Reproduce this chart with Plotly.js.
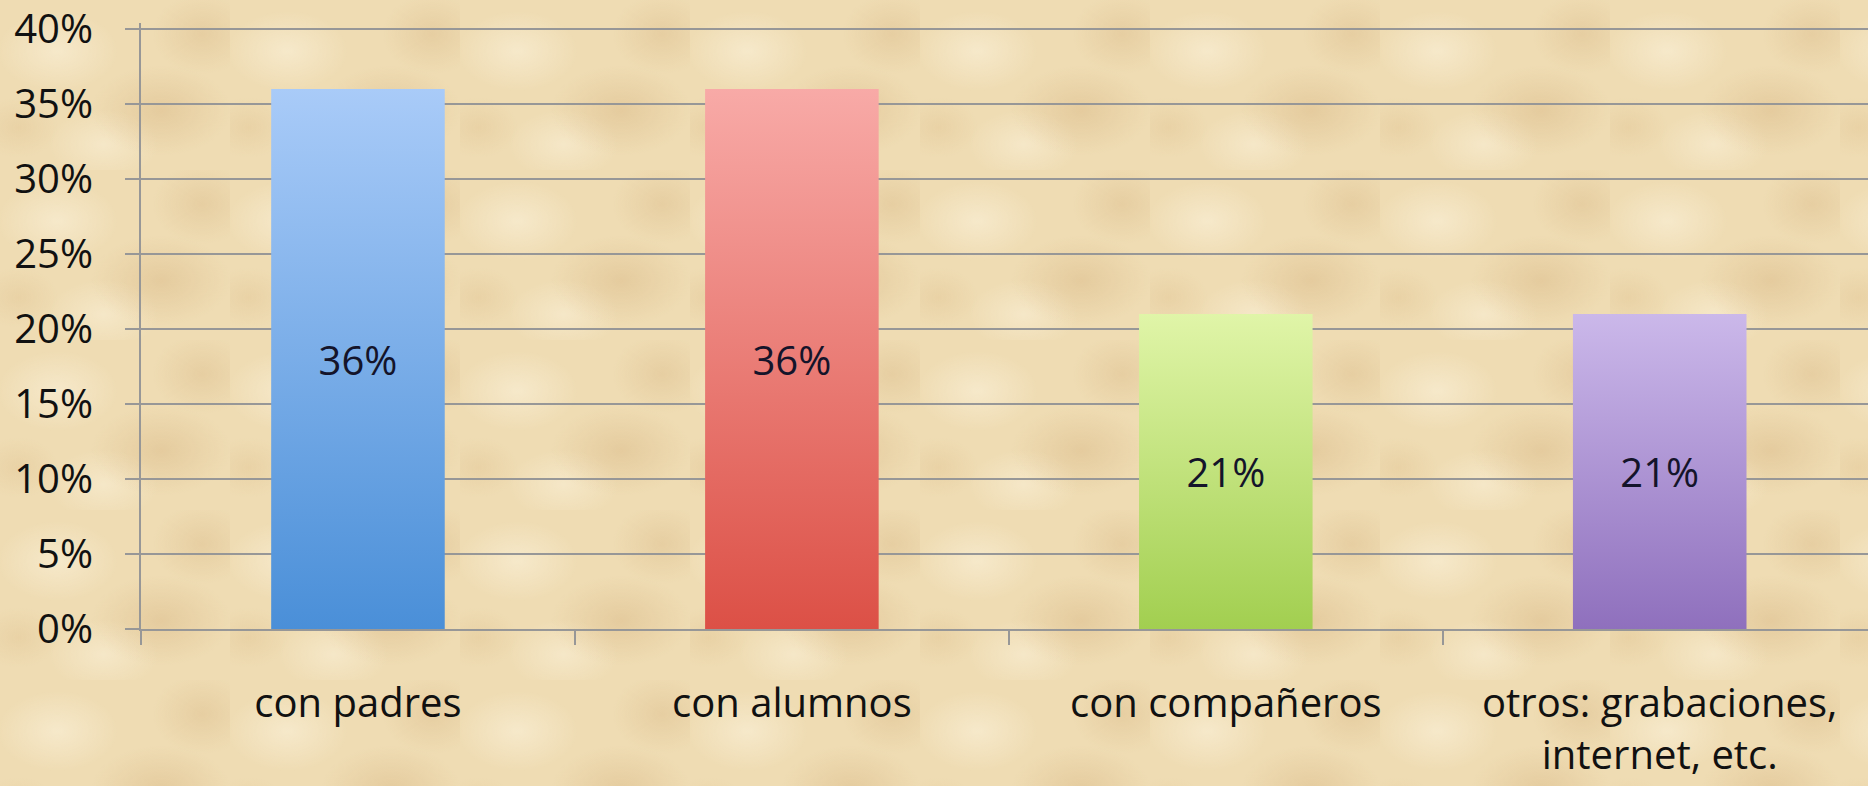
<!DOCTYPE html>
<html>
<head>
<meta charset="utf-8">
<script src="https://cdn.plot.ly/plotly-3.0.1.min.js"></script>
<style>
  html, body { margin: 0; padding: 0; }
  body {
    width: 1868px; height: 786px; overflow: hidden;
    background-color: #efdcb3;
    background-image:
      radial-gradient(ellipse 60px 40px at 25% 30%, rgba(255,248,230,0.45), rgba(255,248,230,0)),
      radial-gradient(ellipse 70px 45px at 70% 65%, rgba(205,165,110,0.30), rgba(205,165,110,0)),
      radial-gradient(ellipse 55px 35px at 45% 85%, rgba(255,248,230,0.40), rgba(255,248,230,0)),
      radial-gradient(ellipse 50px 40px at 88% 20%, rgba(205,165,110,0.25), rgba(205,165,110,0)),
      radial-gradient(ellipse 40px 30px at 8% 75%, rgba(215,180,125,0.25), rgba(215,180,125,0));
    background-size: 230px 170px;
  }
</style>
</head>
<body>
<div id="chart"></div>
<script>
  var categories = ['con padres', 'con alumnos', 'con compañeros', 'otros: grabaciones,<br>internet, etc.'];
  var values = [36, 36, 21, 21];
  var barColors = ['#78aae6', '#ea7b73', '#c2e27c', '#ab92d4'];
  var gradTop = ['#a9cbf8', '#f8aaa7', '#e0f5a8', '#cbb8ea'];
  var gradBottom = ['#4a8fd8', '#dc5046', '#a2cf50', '#8f70bd'];
  var yTicks = [0, 5, 10, 15, 20, 25, 30, 35, 40];
  var yTickLabels = ['0%', '5%', '10%', '15%', '20%', '25%', '30%', '35%', '40%'];

  var trace = {
    x: categories,
    y: values,
    type: 'bar',
    width: 0.4,
    marker: { color: barColors },
    text: values.map(function (v) { return v + '%'; }),
    textposition: 'inside',
    insidetextanchor: 'middle',
    textfont: { family: 'Open Sans', size: 40, color: '#14142a' },
    hoverinfo: 'none'
  };

  var layout = {
    width: 1868,
    height: 786,
    margin: { l: 141, r: 0, t: 23, b: 157 },
    paper_bgcolor: 'rgba(0,0,0,0)',
    plot_bgcolor: 'rgba(0,0,0,0)',
    showlegend: false,
    font: { family: 'Open Sans', size: 40, color: '#111111' },
    xaxis: {
      type: 'category',
      range: [-0.5, 3.48],
      showline: true,
      linecolor: '#979797',
      linewidth: 2,
      ticks: 'outside',
      tickson: 'boundaries',
      ticklen: 14,
      tickwidth: 2,
      tickcolor: '#979797',
      ticklabelstandoff: 38,
      showgrid: false,
      tickfont: { family: 'Open Sans', size: 40, color: '#111111' }
    },
    yaxis: {
      range: [0, 40.4],
      tickmode: 'array',
      tickvals: yTicks,
      ticktext: yTickLabels,
      ticklabeloverflow: 'allow',
      showline: true,
      linecolor: '#979797',
      linewidth: 2,
      ticks: 'outside',
      ticklen: 14,
      tickwidth: 2,
      tickcolor: '#979797',
      ticklabelstandoff: 24,
      showgrid: true,
      gridcolor: '#979797',
      gridwidth: 2,
      zeroline: false,
      tickfont: { family: 'Open Sans', size: 40, color: '#111111' }
    }
  };

  Plotly.newPlot('chart', [trace], layout, { staticPlot: true }).then(function (gd) {
    // vertical gradient on each bar, like the original
    var svg = gd.querySelector('.main-svg');
    var ns = 'http://www.w3.org/2000/svg';
    var defs = document.createElementNS(ns, 'defs');
    gradTop.forEach(function (c, i) {
      var g = document.createElementNS(ns, 'linearGradient');
      g.setAttribute('id', 'barGrad' + i);
      g.setAttribute('x1', '0'); g.setAttribute('y1', '0');
      g.setAttribute('x2', '0'); g.setAttribute('y2', '1');
      [[0, c], [1, gradBottom[i]]].forEach(function (s) {
        var stop = document.createElementNS(ns, 'stop');
        stop.setAttribute('offset', s[0]);
        stop.setAttribute('stop-color', s[1]);
        g.appendChild(stop);
      });
      defs.appendChild(g);
    });
    svg.insertBefore(defs, svg.firstChild);
    gd.querySelectorAll('.bars .point path').forEach(function (p, i) {
      p.style.fill = 'url(#barGrad' + i + ')';
    });
  });
</script>
</body>
</html>
